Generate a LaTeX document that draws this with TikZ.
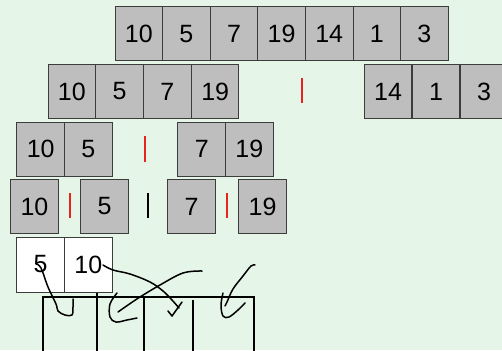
\documentclass[tikz,border=0pt]{standalone}
\usepackage{fontspec}
\setmainfont{Liberation Sans}
\usepackage{xcolor}
\usetikzlibrary{positioning}
\definecolor{PaperGreen}{HTML}{E5F5E7}
\definecolor{CellGray}{HTML}{BEBEBE}
\definecolor{CellEdge}{HTML}{3C3C3C}
\definecolor{SplitRed}{HTML}{E8231E}

\begin{document}
\begin{tikzpicture}[x=1pt,y=-1pt,
  cell/.style={draw=CellEdge,line width=1pt,fill=CellGray,minimum width=47.6pt,minimum height=54pt,inner sep=0pt,font=\fontsize{25}{30}\selectfont},
  sorted/.style={cell,fill=white},
  split/.style={draw=SplitRed,line width=1.6pt},
  joint/.style={draw=black,line width=1.6pt},
  bucket/.style={draw=black,line width=2.7pt},
  scrawl/.style={draw=black,line width=1.5pt,line cap=round,line join=round}
]
\useasboundingbox (0,0) rectangle (502,350);
\clip (0,0) rectangle (502,350);
\fill[PaperGreen] (0,0) rectangle (502,350);

% row 1: whole array
\foreach \v [count=\i from 0] in {10,5,7,19,14,1,3}
  \node[cell] (top\i) at (138.8+47.6*\i,34) {\v};

% row 2: first split
\foreach \v [count=\i from 0] in {10,5,7,19}
  \node[cell] (left\i) at (71.9+47.75*\i,91.5) {\v};
\foreach \v [count=\i from 0] in {14,1,3}
  \node[cell] (right\i) at (388+48*\i,91.5) {\v};
\draw[split] (302,78) -- (302,103);

% row 3: split of the left half
\node[cell] (qa) at (40.7,149) {10};
\node[cell] (qb) at (88.3,149) {5};
\node[cell] (qc) at (201.7,149) {7};
\node[cell] (qd) at (249.3,149) {19};
\draw[split] (145,136) -- (145,162);

% row 4: single cells
\node[cell] (sa) at (34.5,206.5) {10};
\node[cell] (sb) at (104.5,206.5) {5};
\node[cell] (sc) at (191.5,206.5) {7};
\node[cell] (sd) at (262.5,206.5) {19};
\draw[split] (70,193) -- (70,218);
\draw[joint] (148,193) -- (148,218);
\draw[split] (227,193) -- (227,218);

% row 5: merged pair
\node[sorted,minimum height=55pt] (ma) at (40.7,264.5) {5};
\node[sorted,minimum height=55pt] (mb) at (88.3,264.5) {10};

% open boxes at the bottom
\draw[bucket] (43,352) -- (43,297) -- (254,297) -- (254,352);
\draw[bucket] (97,293) -- (97,352);
\draw[bucket] (144,297) -- (144,352);
\draw[bucket] (193,300) -- (193,352);

% hand drawn strokes
\draw[scrawl] plot[smooth,tension=0.6] coordinates {(36,264) (41,268) (48,287) (56,304) (58,311) (65,315) (72,315) (73,307) (73,299)};
\draw[scrawl] plot[smooth,tension=0.6] coordinates {(103,265) (113,270) (130,274) (150,282) (163,291) (172,300) (179,308)};
\draw[scrawl] (168,311) -- (172,316) -- (182,302);
\draw[scrawl] plot[smooth,tension=0.6] coordinates {(202,271) (183,273) (160,285) (140,297) (128,305) (118,312)};
\draw[scrawl] plot[smooth,tension=0.6] coordinates {(117,293) (110,304) (110,317) (116,322) (127,320) (137,318)};
\draw[scrawl] plot[smooth,tension=0.6] coordinates {(255,265) (251,266) (243,276) (233,289) (227,302) (225,306)};
\draw[scrawl] plot[smooth,tension=0.6] coordinates {(223,293) (221,305) (223,316) (229,317) (238,310) (245,303)};
\end{tikzpicture}
\end{document}
